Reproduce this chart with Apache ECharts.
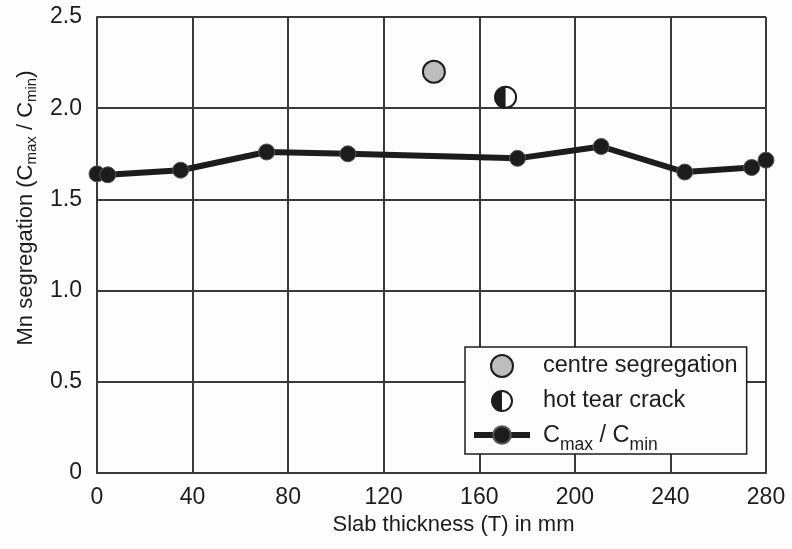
<!DOCTYPE html>
<html>
<head>
<meta charset="utf-8">
<script src="https://cdn.jsdelivr.net/npm/echarts@6/dist/echarts.min.js"></script>
<style>
  html, body { margin: 0; padding: 0; background: #fdfdfd; }
  #chart { width: 792px; height: 549px; }
</style>
</head>
<body>
<div id="chart"></div>
<script>
// Mn segregation ratio across the slab thickness
const thickness = [0, 4.5, 35, 71, 105, 176, 211, 246, 274, 280];
const ratio = [1.64, 1.635, 1.66, 1.76, 1.75, 1.725, 1.79, 1.65, 1.675, 1.715];

// Single observations
const centreSegregation = [[141, 2.2]];
const hotTearCrack = [[171, 2.06]];

// Axis ranges
const xRange = { min: 0, max: 280, step: 40 };
const yRange = { min: 0, max: 2.5, step: 0.5 };

const ink = '#1c1c1c';
const gridInk = '#3a3a3a';
const font = 'Liberation Sans, Arial, sans-serif';

// Half-filled circle (left half dark) used as legend icon
const halfDisc = 'path://M50,0A50,50 0 1,1 50,100A50,50 0 1,1 50,0Z' +
  'M50,9A41,41 0 1,0 50,91A41,41 0 1,0 50,9Z' +
  'M50,9A41,41 0 0,0 50,91Z';

const chart = echarts.init(document.getElementById('chart'), null, { renderer: 'canvas' });

const subRich = {
  s: { fontSize: 15, fontFamily: font, color: ink, padding: [12, 0, 0, 0], verticalAlign: 'bottom' }
};

chart.setOption({
  backgroundColor: '#fdfdfd',
  animation: false,
  grid: { left: 97, right: 26, top: 17, bottom: 76, outerBoundsMode: 'none' },
  xAxis: {
    type: 'value',
    min: xRange.min, max: xRange.max, interval: xRange.step,
    name: 'Slab thickness (T) in mm',
    nameLocation: 'middle',
    nameGap: 40,
    nameTextStyle: { fontSize: 22, fontFamily: font, color: ink, padding: [0, 0, 0, 44] },
    axisLine: { show: true, lineStyle: { color: gridInk, width: 2 } },
    axisTick: { show: false },
    axisLabel: { fontSize: 23, fontFamily: font, color: ink, margin: 13 },
    splitLine: { show: true, lineStyle: { color: gridInk, width: 2 } }
  },
  yAxis: {
    type: 'value',
    min: yRange.min, max: yRange.max, interval: yRange.step,
    name: 'Mn segregation (C{s|max} / C{s|min})',
    nameLocation: 'middle',
    nameGap: 58,
    nameRotate: 90,
    nameTextStyle: { fontSize: 22, fontFamily: font, color: ink, padding: [0, 0, 0, 74], rich: subRich },
    axisLine: { show: true, lineStyle: { color: gridInk, width: 2 } },
    axisTick: { show: false },
    axisLabel: {
      fontSize: 23, fontFamily: font, color: ink, margin: 15,
      formatter: v => (v === 0 ? '0' : v.toFixed(1))
    },
    splitLine: { show: true, lineStyle: { color: gridInk, width: 2 } }
  },
  legend: {
    orient: 'vertical',
    left: 465, top: 347,
    padding: [7, 9, 0, 6],
    itemWidth: 56, itemHeight: 22, itemGap: 11,
    backgroundColor: '#fdfdfd',
    borderColor: ink, borderWidth: 1.5, borderRadius: 0,
    textStyle: {
      fontSize: 23.5, fontFamily: font, color: ink, lineHeight: 22, padding: [0, 0, 0, 8],
      rich: {
        b: { fontSize: 23.5, fontFamily: font, color: ink, lineHeight: 22, verticalAlign: 'top' },
        s: { fontSize: 17.5, fontFamily: font, color: ink, lineHeight: 15, padding: [12, 0, 0, 0], verticalAlign: 'top' }
      }
    },
    formatter: name => (name === 'Cmax / Cmin' ? '{b|C}{s|max}{b| / C}{s|min}' : name),
    data: [
      { name: 'centre segregation' },
      { name: 'hot tear crack', icon: halfDisc, itemStyle: { color: ink } },
      { name: 'Cmax / Cmin', lineStyle: { color: ink, width: 6 } }
    ]
  },
  series: [
    {
      name: 'Cmax / Cmin',
      type: 'line',
      data: thickness.map((t, i) => [t, ratio[i]]),
      symbol: 'circle',
      symbolSize: 16,
      lineStyle: { color: ink, width: 6 },
      itemStyle: { color: ink, borderColor: '#555', borderWidth: 1 },
      z: 3
    },
    {
      name: 'centre segregation',
      type: 'scatter',
      data: centreSegregation,
      symbol: 'circle',
      symbolSize: 22,
      itemStyle: { color: '#bdbdbd', borderColor: ink, borderWidth: 2, opacity: 1 },
      z: 4
    },
    {
      name: 'hot tear crack',
      type: 'custom',
      data: hotTearCrack,
      itemStyle: { color: ink },
      renderItem: (params, api) => {
        const p = api.coord([api.value(0), api.value(1)]);
        const r = 10.5;
        return {
          type: 'group',
          children: [
            { type: 'circle', shape: { cx: p[0], cy: p[1], r: r },
              style: { fill: '#ffffff', stroke: ink, lineWidth: 2 } },
            { type: 'sector',
              shape: { cx: p[0], cy: p[1], r0: 0, r: r, startAngle: Math.PI / 2, endAngle: Math.PI * 1.5, clockwise: true },
              style: { fill: ink } }
          ]
        };
      },
      z: 4
    }
  ]
});
</script>
</body>
</html>
